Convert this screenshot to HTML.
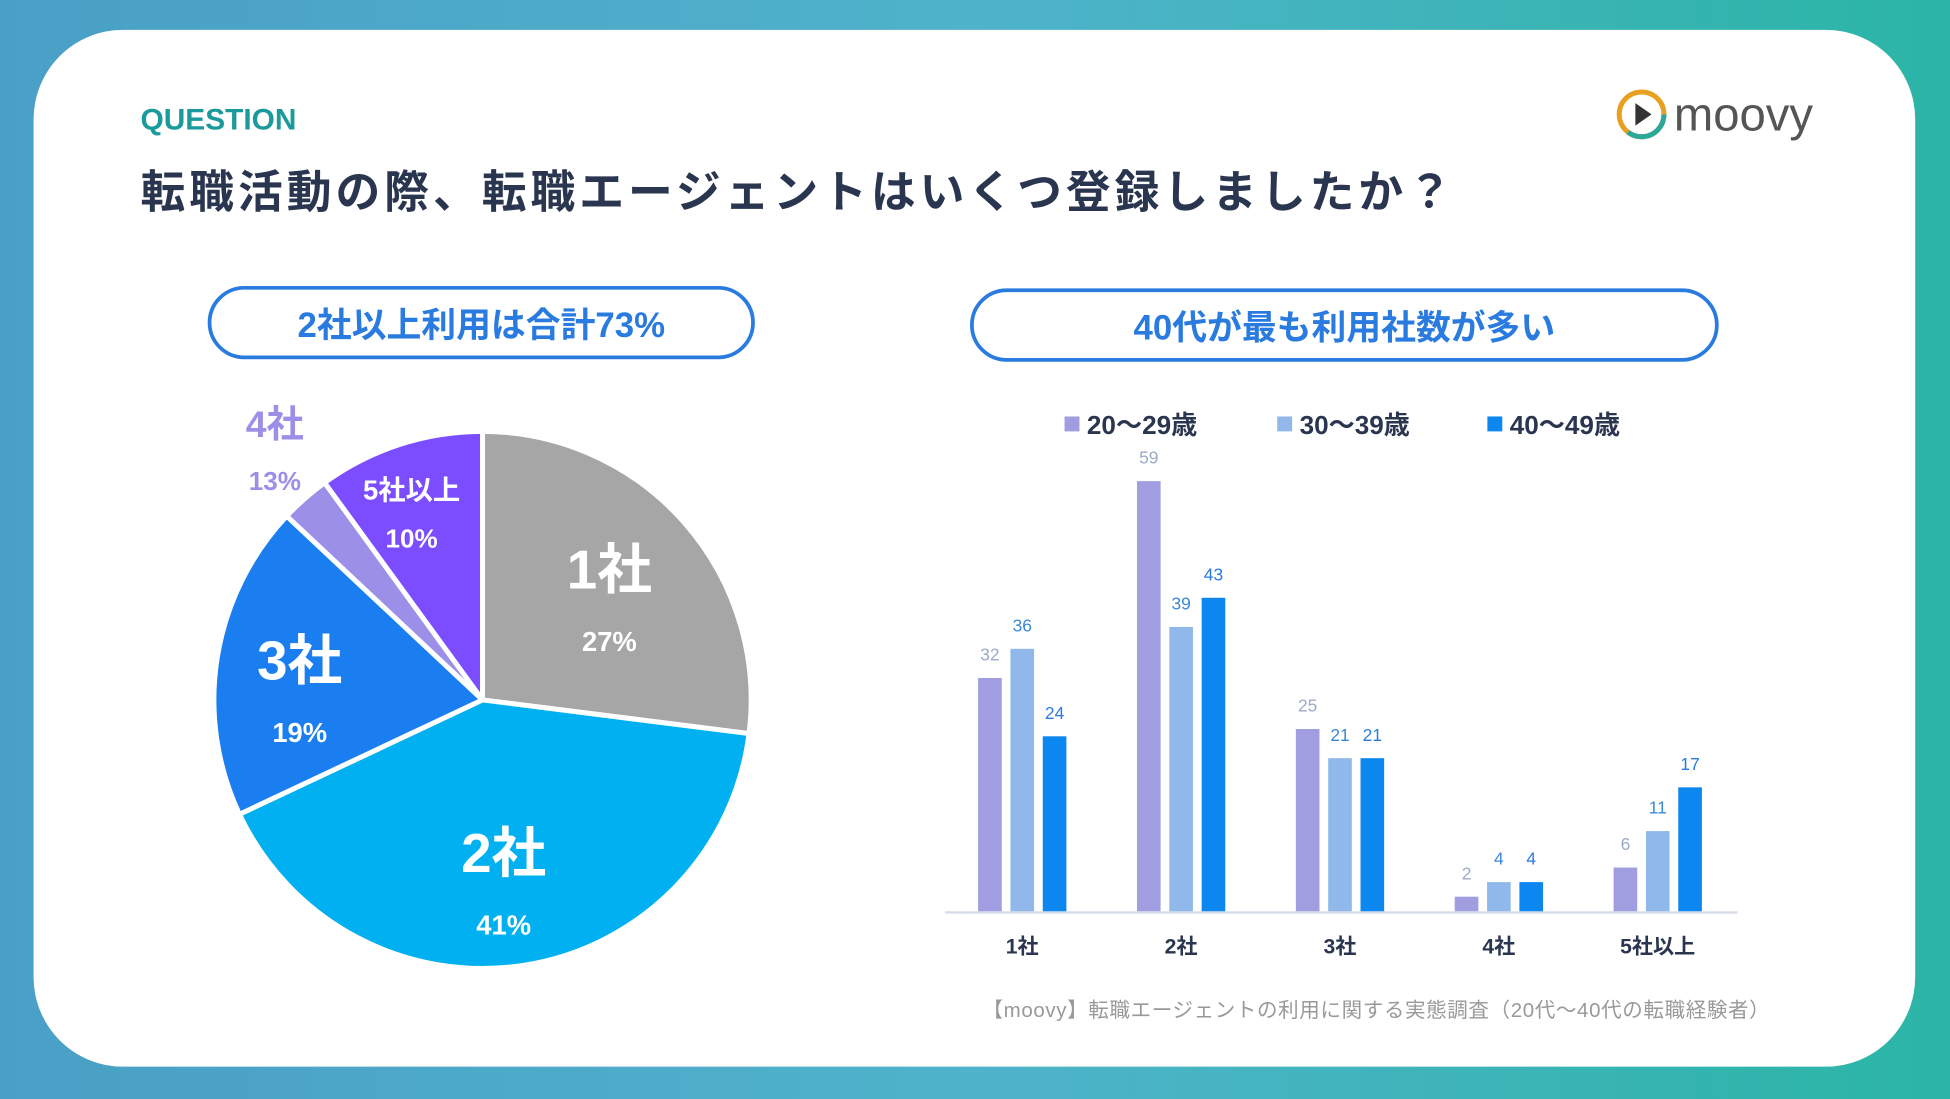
<!DOCTYPE html>
<html><head><meta charset="utf-8">
<style>
html,body{margin:0;padding:0;width:1950px;height:1099px;overflow:hidden;}
body{background:linear-gradient(90deg,#4a9fc6 0%,#4fb3cb 50%,#2bb5a6 100%);font-family:"Liberation Sans","Noto Sans CJK JP",sans-serif;}
#stage{position:absolute;left:0;top:0;width:1568px;height:884px;transform:scale(1.24362,1.24321);transform-origin:0 0;}
.card{position:absolute;left:27px;top:24px;width:1513px;height:834px;background:#fff;border-radius:72px;}
.abs{position:absolute;white-space:nowrap;}
.pill{position:absolute;border:3px solid #2a7be0;border-radius:32px;color:#2a7be0;font-weight:bold;font-size:28px;display:flex;align-items:center;justify-content:center;box-sizing:border-box;}
</style></head>
<body>
<div id="stage">
<div class="card"></div>
<div class="abs" style="left:113px;top:83px;font-size:24px;font-weight:bold;color:#1a9a9a;">QUESTION</div>
<div class="abs" style="left:113px;top:126px;font-size:36px;font-weight:bold;color:#2a3550;letter-spacing:3.2px;">転職活動の際、転職エージェントはいくつ登録しましたか？</div>
<div class="abs" style="left:1298px;top:70px;">
<svg width="180" height="50"><circle cx="22" cy="22" r="18" fill="none" stroke="#e8a020" stroke-width="4"/><circle cx="22" cy="22" r="18" fill="none" stroke="#2aa89a" stroke-width="4" stroke-dasharray="40 80"/><path d="M17 13 L30 22 L17 31 Z" fill="#333"/>
<text x="48" y="35" font-size="38" font-family="Liberation Sans, sans-serif" fill="#555">moovy</text></svg></div>
<div class="pill" style="left:167px;top:230px;width:440px;height:59px;">2社以上利用は合計73%</div>
<div class="pill" style="left:780px;top:232px;width:602px;height:59px;">40代が最も利用社数が多い</div>
<svg id="pie" class="abs" style="left:0;top:0" width="800" height="884"></svg>
<svg id="bars" class="abs" style="left:0;top:0" width="1568" height="884"></svg>
<div class="abs" style="left:790px;top:799px;font-size:16.5px;letter-spacing:0.5px;color:#999;">【moovy】転職エージェントの利用に関する実態調査（20代〜40代の転職経験者）</div>
</div>
<script>
const NS="http://www.w3.org/2000/svg";
const pieLabels=["1社","2社","3社","4社","5社以上"];
const pieValues=[27,41,19,3,10];
const pieTexts=["27%","41%","19%","13%","10%"];
const pieColors=["#a6a6a6","#00b0f0","#1a7ef0","#9c8fe8","#7c4dff"];
const cats=["1社","2社","3社","4社","5社以上"];
const seriesNames=["20〜29歳","30〜39歳","40〜49歳"];
const s20=[32,59,25,2,6];
const s30=[36,39,21,4,11];
const s40=[24,43,21,4,17];
function mk(t,a,p){const e=document.createElementNS(NS,t);for(const k in a)e.setAttribute(k,a[k]);p.appendChild(e);return e;}
const pie=document.getElementById('pie');
const cx=388,cy=563,R=216;
const tot=pieValues.reduce((a,b)=>a+b,0);
let acc=0;
const pt=(ang,r)=>[cx+r*Math.sin(ang),cy-r*Math.cos(ang)];
pieValues.forEach((v,i)=>{
  const a0=acc/tot*2*Math.PI;acc+=v;const a1=acc/tot*2*Math.PI;
  const p0=pt(a0,R),p1=pt(a1,R);
  const p=mk('path',{d:`M${cx},${cy} L${p0[0]},${p0[1]} A${R},${R} 0 ${a1-a0>Math.PI?1:0} 1 ${p1[0]},${p1[1]} Z`,fill:pieColors[i],stroke:'#fff','stroke-width':4,'stroke-linejoin':'round'},pie);
  
  
});
const labelPos=[[490,458,516,44,22,'#fff'],[405,686,744,44,22,'#fff'],[241,531,589,44,22,'#fff'],[221,341,387,30,21,'#9c8fe8'],[331,394,433,22,21,'#fff']];
labelPos.forEach((l,i)=>{
  const t1=mk('text',{x:l[0],y:l[1]+l[3]*0.35,'text-anchor':'middle','font-size':l[3],'font-weight':'bold',fill:l[5]},pie);t1.textContent=pieLabels[i];
  
  
  const t2=mk('text',{x:l[0],y:l[2]+l[4]*0.35,'text-anchor':'middle','font-size':l[4],'font-weight':'bold',fill:l[5]},pie);t2.textContent=pieTexts[i];
  
  
});
const bars=document.getElementById('bars');
const base=733,unit=346/59,gx0=822,gstep=127.75,bw=19,boff=26;
const y=v=>base-v*unit;
const series=[s20,s30,s40];
const sColors=["#a09ee0","#90b8ea","#0d87f0"];
const lColors=["#9aaac8","#3a88d8","#2a7be0"];
const ax=mk('line',{x1:760,x2:1397,y1:base+1,y2:base+1,stroke:'#d8dde8','stroke-width':2},bars);


cats.forEach((c,ci)=>{
  const gx=gx0+ci*gstep;
  series.forEach((s,si)=>{
    const bx=gx+(si-1)*boff;
    const r=mk('rect',{x:bx-bw/2,y:y(s[ci]),width:bw,height:s[ci]*unit,fill:sColors[si]},bars);
    
    
    const t=mk('text',{x:bx,y:y(s[ci])-14,'text-anchor':'middle','font-size':14,fill:lColors[si]},bars);t.textContent=s[ci];
    
    
  });
  const ct=mk('text',{x:gx,y:767,'text-anchor':'middle','font-size':17,'font-weight':'bold',fill:'#2a3550'},bars);ct.textContent=c;
  
  
});
const legX=[856,1027,1196];
seriesNames.forEach((n,i)=>{
  const sq=mk('rect',{x:legX[i],y:335,width:12,height:12,fill:sColors[i]},bars);
  
  
  const t=mk('text',{x:legX[i]+18,y:349,'font-size':21,'font-weight':'bold',fill:'#2a3550'},bars);t.textContent=n;
  
  
});
</script>
</body></html>
